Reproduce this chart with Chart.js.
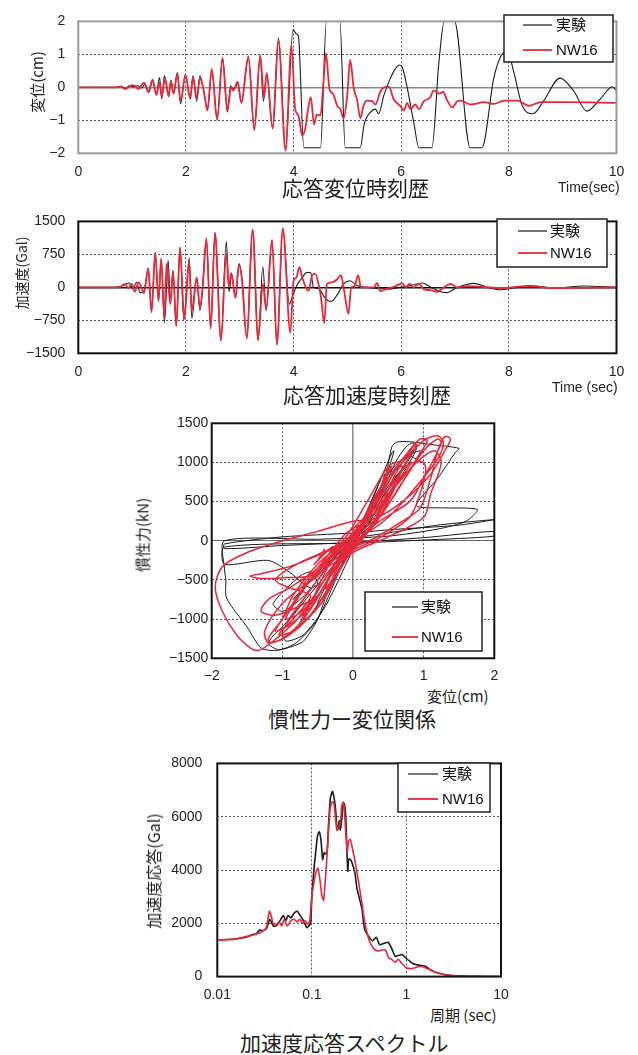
<!DOCTYPE html>
<html>
<head>
<meta charset="utf-8">
<script src="https://cdn.jsdelivr.net/npm/chart.js@4.4.0/dist/chart.umd.min.js"></script>
<style>
  body { margin: 0; width: 638px; height: 1055px; position: relative; overflow: hidden; background: #fff;
         font-family: "Liberation Sans", "Noto Sans CJK JP", sans-serif; color: #222; }
  canvas { position: absolute; left: 0; }
  .t { position: absolute; white-space: nowrap; line-height: 1; }
  .big { font-family: "Noto Sans CJK JP", sans-serif; font-size: 21px; }
  .v { transform: translate(-50%, -50%) rotate(-90deg); font-family: "Noto Sans CJK JP", sans-serif; }
</style>
</head>
<body>
<canvas id="c1" width="638" height="200" style="top:0"></canvas>
<canvas id="c2" width="638" height="205" style="top:200px"></canvas>
<canvas id="c3" width="638" height="280" style="top:405px"></canvas>
<canvas id="c4" width="638" height="260" style="top:740px"></canvas>

<div class="t v" style="left:36px;top:82px;font-size:15px">変位(cm)</div>
<div class="t" style="left:558px;top:180px;font-size:14px">Time(sec)</div>
<div class="t big" style="left:282px;top:177px">応答変位時刻歴</div>

<div class="t v" style="left:21px;top:273px;font-size:14px">加速度(Gal)</div>
<div class="t" style="left:552px;top:380px;font-size:14px">Time (sec)</div>
<div class="t big" style="left:283px;top:384px">応答加速度時刻歴</div>

<div class="t v" style="left:142px;top:535px;font-size:15px">慣性力(kN)</div>
<div class="t" style="left:427px;top:688px;font-size:15px;font-family:'Noto Sans CJK JP'">変位(cm)</div>
<div class="t big" style="left:268px;top:708px">慣性力ー変位関係</div>

<div class="t v" style="left:153px;top:871px;font-size:16px">加速度応答(Gal)</div>
<div class="t" style="left:430px;top:1007px;font-size:15px;font-family:'Noto Sans CJK JP'">周期 (sec)</div>
<div class="t big" style="left:240px;top:1032px">加速度応答スペクトル</div>

<script>
// ---- response displacement time history (cm) ----
const dispTimeExp = [0, 0.7, 0.8, 0.88, 0.95, 1.02, 1.1, 1.18, 1.24, 1.31, 1.38, 1.45, 1.51, 1.55, 1.6, 1.68, 1.72, 1.77, 1.84, 1.9, 1.99, 2.08, 2.13, 2.2, 2.26, 2.33, 2.4, 2.48, 2.58, 2.68, 2.77, 2.83, 2.87, 2.92, 2.96, 3.03, 3.16, 3.27, 3.38, 3.44, 3.5, 3.61, 3.72, 3.85, 3.99, 4.05, 4.09, 4.19, 4.5, 4.61, 4.86, 4.96, 5.24, 5.31, 5.43, 5.52, 5.58, 5.68, 5.8, 5.89, 5.97, 6.02, 6.11, 6.23, 6.33, 6.57, 6.7, 6.8, 6.99, 7.28, 7.5, 7.72, 7.85, 7.97, 8.09, 8.25, 8.45, 8.65, 8.95, 9.2, 9.45, 9.7, 9.92, 10];
const dispExp = [0, 0, 0.03, -0.03, 0.05, 0.02, 0.05, -0.02, 0.1, -0.15, 0.2, -0.2, 0.3, -0.35, 0.35, -0.28, 0.22, -0.19, 0.45, -0.5, 0.38, -0.35, 0.35, -0.42, 0.35, -0.1, -0.65, 0.5, -0.95, 0.9, -0.75, 0.05, -0.05, 0, 0.12, -0.45, 0.9, -1.25, 0.95, -0.42, 0.4, -1.2, 1.5, -1.85, 1.75, 1.62, 1.55, -1.83, -1.83, 2, 2, -1.83, -1.83, -1.13, -0.75, -0.66, -0.8, -0.23, 0.28, 0.56, 0.68, 0.61, 0, -1.03, -1.83, -1.83, 0.75, 2, 2, -1.83, -1.83, 0.28, 0.94, 1.1, 0.47, -0.56, -0.8, -0.4, 0.28, -0.1, -0.72, -0.35, 0.02, -0.1];
const dispTimeNW = [0, 0.7, 0.8, 0.87, 0.95, 1.02, 1.08, 1.12, 1.18, 1.22, 1.3, 1.38, 1.45, 1.51, 1.55, 1.61, 1.68, 1.72, 1.77, 1.84, 1.9, 1.99, 2.08, 2.13, 2.2, 2.26, 2.33, 2.4, 2.48, 2.58, 2.68, 2.77, 2.84, 2.88, 2.96, 3.03, 3.16, 3.27, 3.38, 3.45, 3.5, 3.61, 3.72, 3.85, 3.96, 4.03, 4.09, 4.16, 4.22, 4.26, 4.32, 4.38, 4.43, 4.5, 4.56, 4.6, 4.67, 4.73, 4.81, 4.87, 4.93, 5.0, 5.05, 5.12, 5.18, 5.24, 5.3, 5.36, 5.46, 5.52, 5.61, 5.68, 5.77, 5.86, 5.98, 6.05, 6.11, 6.17, 6.26, 6.33, 6.42, 6.54, 6.6, 6.7, 6.78, 6.85, 6.95, 7.04, 7.1, 7.29, 7.54, 7.72, 7.91, 8.16, 8.37, 8.59, 9.09, 10];
const dispNW = [0, 0, 0.02, -0.05, 0.03, 0.07, 0, -0.05, 0.08, 0.14, -0.14, 0.23, -0.23, 0.14, -0.28, 0.28, -0.26, 0.19, -0.19, 0.42, -0.42, 0.38, -0.33, 0.33, -0.33, 0.28, -0.1, -0.7, 0.56, -0.99, 0.88, -0.7, 0, -0.1, 0.17, -0.47, 0.94, -1.3, 0.98, -0.3, 0.44, -1.25, 1.4, -1.92, 1.28, -0.66, -0.85, -1.46, -1.22, -0.75, -0.3, -1.13, -0.83, -0.85, 0.28, 1.03, -0.09, -0.19, -0.56, -0.66, -0.94, -0.19, 0.83, -0.05, -0.38, -0.94, -0.56, -0.4, -0.42, -0.52, -0.14, 0, 0.02, -0.36, -0.56, -0.7, -0.47, -0.66, -0.52, -0.66, -0.42, -0.3, -0.09, -0.19, -0.14, -0.38, -0.61, -0.42, -0.4, -0.52, -0.45, -0.5, -0.4, -0.4, -0.56, -0.45, -0.45, -0.47];

// ---- response acceleration time history (Gal) ----
const accTimeExp = [0, 0.7, 0.78, 0.87, 0.94, 1.02, 1.08, 1.15, 1.22, 1.3, 1.36, 1.43, 1.49, 1.54, 1.6, 1.67, 1.71, 1.76, 1.82, 1.89, 1.96, 1.99, 2.06, 2.11, 2.2, 2.26, 2.31, 2.38, 2.46, 2.54, 2.65, 2.75, 2.8, 2.85, 2.92, 2.99, 3.04, 3.13, 3.24, 3.34, 3.43, 3.49, 3.6, 3.69, 3.8, 3.92, 3.97, 4.06, 4.16, 4.25, 4.32, 4.37, 4.47, 4.56, 4.65, 4.71, 4.81, 4.93, 5.05, 5.18, 5.36, 5.55, 5.8, 5.98, 6.17, 6.39, 6.54, 6.73, 6.85, 7.01, 7.35, 7.6, 7.85, 8.09, 8.4, 8.84, 9.4, 10];
const accExp = [0, 0, 20, 60, 100, -40, 115, -120, -80, 420, -560, 790, -300, 640, -800, 610, -350, 380, -870, 915, -740, -450, 664, -700, 230, -530, 0, 1080, -920, 1250, -1200, 1040, -100, 300, -230, 540, 200, -1130, 1290, -1200, 470, -530, 1070, -1310, 1340, -385, -240, 40, 220, 340, 330, 0, -30, -200, -310, -315, -170, 80, 150, 40, 0, -25, -40, 0, 40, 100, 10, -100, -120, -20, 90, 0, -55, -15, 35, -15, 30, 0];
const accTimeNW = [0, 0.7, 0.78, 0.87, 0.93, 0.99, 1.05, 1.12, 1.18, 1.22, 1.3, 1.36, 1.43, 1.49, 1.54, 1.6, 1.64, 1.71, 1.76, 1.82, 1.89, 1.97, 2.06, 2.11, 2.2, 2.26, 2.31, 2.38, 2.46, 2.54, 2.65, 2.75, 2.8, 2.84, 2.92, 2.98, 3.04, 3.13, 3.24, 3.34, 3.43, 3.49, 3.6, 3.69, 3.8, 3.94, 4.0, 4.05, 4.11, 4.17, 4.28, 4.34, 4.4, 4.47, 4.51, 4.57, 4.62, 4.71, 4.81, 4.88, 4.93, 5.02, 5.07, 5.13, 5.2, 5.25, 5.49, 5.55, 5.61, 5.74, 5.86, 6.02, 6.08, 6.16, 6.23, 6.33, 6.42, 6.54, 6.67, 6.79, 6.92, 7.04, 7.23, 7.85, 8.34, 8.84, 10];
const accNW = [0, 0, 10, 80, -20, 80, -100, 115, -30, -135, 435, -565, 790, -315, 650, -700, 540, -385, 365, -885, 900, -710, 580, -530, 220, -460, 0, 1120, -940, 1230, -1210, 760, 0, 330, -240, 505, 200, -1160, 1320, -1200, 80, -490, 1080, -1290, 1340, -1030, 150, 220, 457, 185, -80, 260, 310, 40, -240, -815, 80, 115, 185, 280, 0, -600, 0, 20, 280, 0, 0, 100, -85, -30, 10, 90, 0, 80, 0, 80, -40, -65, -100, 0, 80, 0, 30, -15, 30, -15, 0];

// ---- inertial force vs displacement loops ----
const hysDispExp = [0, 0.05, -0.05, 0.1, -0.08, 0.15, -0.15, 0.22, -0.2, 0.35, 0.45, 0.4, 0.1, -0.15, -0.4, -0.5, -0.35, -0.05, 0.35, 0.5, 0.58, 0.55, 0.35, 0.05, -0.3, -0.6, -0.75, -0.65, -0.35, 0, 0.4, 0.6, 0.75, 0.85, 0.9, 0.7, 0.3, -0.1, -0.5, -0.9, -1.2, -1.05, -0.8, -0.5, -0.2, 0.1, 0.3, 0.5, 0.7, 0.95, 0.9, 0.8, 0.88, 0.7, 0.4, 0, -0.4, -0.8, -1.0, -0.95, -0.7, -0.4, -0.1, 0.45, 0.55, 0.62, 0.8, 1.1, 1.5, 1.45, 1.2, 0.9, 1.3, 1.76, 1.6, 1.2, 0.5, -0.5, -1.82, -1.82, -1.8, -1.79, -1.5, -1.3, -1.1, -0.9, -0.7, -0.5, -0.3, 0, 0.5, 1.2, 2.0, 1.5, 0.5, 0, -1, -1.82, -1.82, -1, 0, 1, 2, 2, 1, 0, -1.82, -1.82, -1.2, -0.9, -0.7, -0.6, -0.5, -0.6, -0.75, -1.13, -1.0, -0.75, -0.5, -0.1, 0.3, 0.6, 0.68, 0.5, 0.2, -0.3, -0.8, -0.85, -0.6, -0.2, 0.2, 0.28, 0, -0.4, -0.72, -0.5, 0, -0.1];
const hysForceExp = [0, 60, -50, 120, -100, 200, -220, 330, -300, 600, 850, 800, 150, -150, -600, -800, -650, -100, 500, 900, 1150, 1120, 700, 100, -350, -800, -1050, -1000, -600, -50, 600, 1000, 1200, 1250, 1180, 850, 300, -50, -500, -1000, -1300, -1390, -1300, -1000, -400, 150, 500, 850, 1050, 1150, 1050, 1100, 1180, 900, 450, 0, -450, -900, -1150, -1280, -1200, -850, -300, 800, 1200, 1260, 1265, 1230, 1180, 1130, 800, 450, 420, 400, 250, 150, 60, 20, 0, -350, -500, -730, -1100, -1370, -1400, -1360, -1280, -1000, -500, 0, 100, 200, 270, 200, 140, 100, 50, -40, -100, -60, -20, 40, 120, 60, 10, -30, -80, -300, -250, -400, -550, -600, -550, -400, -450, -800, -900, -750, -500, 0, 400, 800, 900, 700, 200, -250, -700, -750, -500, -100, 150, 250, 50, -300, -600, -400, 0, -50];
const hysDispNW = [0, 0.04, -0.04, 0.08, -0.06, 0.12, -0.1, 0.18, -0.15, 0.3, 0.4, 0.35, 0.1, -0.1, -0.35, -0.4, -0.3, -0.1, 0.15, 0.4, 0.55, 0.5, 0.3, 0, -0.3, -0.55, -0.7, -0.6, -0.3, 0, 0.3, 0.6, 0.85, 0.9, 0.75, 0.4, 0, -0.5, -0.85, -1.0, -1.1, -0.95, -0.6, -0.3, -0.1, 0.2, 0.5, 0.75, 0.95, 1.05, 0.9, 0.6, 0.2, -0.3, -0.7, -1.0, -1.2, -1.15, -0.9, -0.6, -0.35, -0.1, 0.3, 0.7, 0.95, 1.1, 1.2, 1.3, 1.38, 1.3, 1.1, 0.7, 0.3, 0, -0.5, -1.0, -1.5, -1.85, -1.95, -1.85, -1.65, -1.45, -1.35, -1.2, -0.9, -0.5, -0.2, 0.1, 0.4, 0.7, 1.0, 1.2, 1.28, 1.2, 0.9, 0.5, 0.1, -0.4, -0.9, -1.3, -1.46, -1.3, -0.95, -0.6, -0.3, 0, 0.4, 0.8, 0.95, 1.03, 1.0, 0.9, 0.7, 0.3, -0.2, -0.6, -0.9, -0.95, -0.8, -0.5, -0.2, 0.3, 0.8, 1.0, 1.25, 1.2, 1.0, 0.7, 0.35, -0.2, -0.8, -1.1, -0.9, -0.6, -0.8, -1.05, -0.85, -0.45, -0.15, 0.2, 0.6, 0.83, 0.7, 0.3, -0.1, -0.5, -0.94, -0.9, -0.7, -0.3, -0.2, -0.6, -1.0, -1.25, -1.2, -1.0, -0.7, -0.45, -0.2, 0.2, 0.5, 0.65, 0.5, 0.2, -0.1, -0.5, -0.9, -1.2, -1.3, -1.1, -0.8, -0.5, -0.3, 0, 0.5, 1.0, 1.1, 1.25, 1.15, 0.9, 0.5, 0.2, 0, 0.2, 0.55, 0.7, 0.6, 0.35, 0, -0.1, -0.5, -0.7, -0.5, -0.25, -0.3, -0.55, -0.5, -0.4];
const hysForceNW = [0, 50, -40, 100, -80, 160, -130, 250, -220, 450, 650, 600, 100, -100, -500, -620, -500, -150, 100, 700, 950, 920, 500, 50, -250, -700, -1000, -950, -550, -100, 250, 850, 1200, 1230, 1000, 450, 80, -300, -700, -1000, -1150, -1100, -850, -400, -120, 300, 800, 1100, 1300, 1280, 1050, 600, 100, -200, -600, -1000, -1250, -1300, -1200, -950, -600, -150, 30, 250, 420, 800, 1150, 1330, 1300, 1150, 850, 500, 280, 250, 120, 0, -150, -330, -600, -900, -1200, -1370, -1400, -1330, -1100, -700, -250, 200, 700, 1000, 1280, 1340, 1250, 1050, 700, 300, 50, -150, -330, -420, -450, -480, -470, -450, -300, -120, 50, 300, 600, 900, 1000, 1000, 800, 350, -100, -500, -900, -1000, -950, -700, -300, 200, 500, 800, 1250, 1300, 1150, 750, 300, -50, -300, -500, -600, -700, -950, -1200, -1150, -800, -300, 100, 700, 1000, 900, 400, 0, -500, -1050, -1100, -900, -350, -200, -500, -800, -1150, -1300, -1250, -1000, -650, -200, 300, 750, 1000, 950, 500, 50, -350, -600, -750, -900, -950, -850, -700, -400, -150, 50, 300, 600, 1000, 1150, 1000, 600, 250, 150, 100, 600, 950, 900, 500, 150, 100, -350, -550, -450, -100, -80, -300, -250, -100];

// ---- acceleration response spectrum ----
const periodExp = [0.01, 0.013, 0.016, 0.02, 0.023, 0.026, 0.028, 0.03, 0.033, 0.036, 0.039, 0.042, 0.046, 0.05, 0.053, 0.056, 0.06, 0.065, 0.07, 0.075, 0.08, 0.085, 0.089, 0.093, 0.097, 0.1, 0.105, 0.11, 0.115, 0.12, 0.125, 0.13, 0.135, 0.14, 0.145, 0.15, 0.157, 0.165, 0.172, 0.178, 0.185, 0.19, 0.195, 0.2, 0.207, 0.213, 0.22, 0.228, 0.235, 0.24, 0.245, 0.255, 0.27, 0.285, 0.3, 0.32, 0.34, 0.36, 0.4, 0.44, 0.48, 0.52, 0.58, 0.64, 0.7, 0.76, 0.82, 0.9, 1.0, 1.1, 1.2, 1.4, 1.6, 1.8, 2.0, 2.5, 3, 4, 5, 7, 10];
const specExp = [1380, 1390, 1420, 1480, 1560, 1620, 1750, 1720, 1800, 2150, 1900, 1900, 2100, 2290, 2100, 2290, 2200, 2380, 2450, 2300, 2150, 1950, 1830, 1900, 2000, 3000, 4000, 4700, 5300, 5430, 5100, 4400, 4650, 4600, 4700, 5700, 6700, 6950, 6700, 6300, 5500, 5550, 5850, 5500, 5900, 6400, 6500, 6000, 4700, 3950, 4400, 4400, 4200, 3900, 3300, 2900, 2500, 1800, 1500, 1350, 1480, 1200, 1250, 1290, 1050, 760, 790, 830, 680, 560, 470, 420, 380, 250, 170, 80, 40, 20, 10, 5, 0];
const periodNW = [0.01, 0.015, 0.02, 0.025, 0.03, 0.033, 0.0355, 0.037, 0.039, 0.042, 0.045, 0.048, 0.051, 0.055, 0.06, 0.065, 0.07, 0.075, 0.08, 0.085, 0.09, 0.095, 0.1, 0.105, 0.11, 0.116, 0.122, 0.128, 0.133, 0.14, 0.148, 0.156, 0.163, 0.17, 0.176, 0.184, 0.192, 0.2, 0.207, 0.215, 0.222, 0.23, 0.237, 0.245, 0.255, 0.265, 0.28, 0.3, 0.32, 0.34, 0.36, 0.38, 0.41, 0.45, 0.5, 0.55, 0.6, 0.65, 0.7, 0.76, 0.82, 0.9, 1.0, 1.1, 1.2, 1.35, 1.5, 1.7, 2.0, 2.5, 3, 4, 6, 10];
const specNW = [1380, 1400, 1500, 1580, 1700, 1850, 2450, 2300, 2000, 1950, 2050, 1900, 2150, 1900, 2100, 2150, 2050, 2150, 2000, 2100, 1950, 2100, 3050, 3500, 3900, 4060, 3600, 3000, 2870, 3800, 5100, 6300, 6550, 6550, 6100, 5500, 5600, 5750, 6400, 6550, 6100, 5200, 4700, 5100, 5150, 4900, 4500, 3900, 3300, 2700, 2100, 1700, 1300, 1050, 960, 1000, 1000, 700, 640, 540, 650, 480, 330, 300, 320, 380, 370, 280, 170, 80, 40, 15, 5, 0];

const dispTicks = [-2, -1, 0, 1, 2];
const accTicks = [-1500, -750, 0, 750, 1500];
const timeTicks = [0, 2, 4, 6, 8, 10];
const periodTicks = [0.01, 0.1, 1, 10];

const RED = "#e8283a";
const BLACK = "#1b1b1b";
const FONT = { family: "'Liberation Sans', Arial, sans-serif", size: 14 };

const pts = (xs, ys) => xs.map((x, i) => ({ x, y: ys[i] }));
const minus = v => String(v).replace("-", "\u2212");
const useTicks = list => scale => { scale.ticks = list.map(value => ({ value })); };

// outer frame and boxed legend drawn on top of the plot
const framePlugin = {
  id: "frame",
  afterDatasetsDraw(chart, args, o) {
    const { ctx, chartArea: a } = chart;
    ctx.save();
    ctx.strokeStyle = o.color;
    ctx.lineWidth = o.width;
    ctx.strokeRect(a.left, a.top, a.right - a.left, a.bottom - a.top);
    const L = o.legend;
    ctx.fillStyle = "#fff";
    ctx.fillRect(L.x, L.y, L.w, L.h);
    ctx.strokeStyle = "#222";
    ctx.lineWidth = 1.5;
    ctx.strokeRect(L.x, L.y, L.w, L.h);
    ctx.font = "15px 'Liberation Sans', 'Noto Sans CJK JP', sans-serif";
    ctx.textBaseline = "middle";
    chart.data.datasets.forEach((ds, i) => {
      const yy = L.rows[i];
      ctx.strokeStyle = ds.borderColor;
      ctx.lineWidth = i === 0 ? 1.2 : 1.8;
      ctx.beginPath();
      ctx.moveTo(L.x1, yy);
      ctx.lineTo(L.x2, yy);
      ctx.stroke();
      ctx.fillStyle = "#111";
      ctx.fillText(ds.label, L.tx, yy + 1);
    });
    ctx.restore();
  }
};
Chart.register(framePlugin);

// grid: dotted inside, special line at zero, hidden at the edges
const grid = (min, max, zero) => ({
  drawTicks: false,
  lineWidth: c => (c.tick && c.tick.value === 0 && zero ? zero.width : 1),
  color: c => {
    const v = c.tick ? c.tick.value : null;
    if (v === min || v === max) return "rgba(0,0,0,0)";
    if (v === 0 && zero) return zero.color;
    return "#555";
  }
});
const border = zero => ({
  display: false,
  dash: c => (c.tick && c.tick.value === 0 && zero ? [] : [2, 2])
});

const lineSet = (label, data, color, width, extra) => Object.assign({
  label, data, borderColor: color, backgroundColor: color, borderWidth: width,
  pointRadius: 0, fill: false
}, extra);

const baseOptions = (padding, legend, frameColor) => ({
  responsive: false,
  animation: false,
  events: [],
  layout: { padding },
  plugins: {
    legend: { display: false },
    tooltip: { enabled: false },
    frame: { color: frameColor, width: 2, legend }
  }
});

function linearAxis(min, max, ticks, zero, pad, size, horizontal) {
  return {
    type: "linear", min, max,
    afterBuildTicks: useTicks(ticks),
    ticks: { font: FONT, color: "#222", padding: pad, callback: v => minus(v) },
    grid: grid(min, max, zero),
    border: border(zero),
    afterFit: s => { if (horizontal) s.height = size; else s.width = size; }
  };
}

// chart 1: displacement time history
new Chart(document.getElementById("c1"), {
  type: "line",
  data: { datasets: [
    lineSet("実験", pts(dispTimeExp, dispExp), BLACK, 1.1, { order: 1, cubicInterpolationMode: "monotone" }),
    lineSet("NW16", pts(dispTimeNW, dispNW), RED, 1.8, { order: 0, cubicInterpolationMode: "monotone" })
  ] },
  options: Object.assign(baseOptions({ left: 0, right: 21.5, top: 11, bottom: 0 },
    { x: 504, y: 15, w: 109, h: 47, rows: [25, 50], x1: 523, x2: 552, tx: 556 }, "#9a9a9a"), {
    scales: {
      x: linearAxis(0, 10, timeTicks, null, 10, 46.7, true),
      y: linearAxis(-2, 2, dispTicks, { color: "#8a8a8a", width: 1.5 }, 13, 78.3, false)
    }
  })
});

// chart 2: acceleration time history
new Chart(document.getElementById("c2"), {
  type: "line",
  data: { datasets: [
    lineSet("実験", pts(accTimeExp, accExp), BLACK, 1.1, { order: 1, cubicInterpolationMode: "monotone" }),
    lineSet("NW16", pts(accTimeNW, accNW), RED, 1.8, { order: 0, cubicInterpolationMode: "monotone" })
  ] },
  options: Object.assign(baseOptions({ left: 0, right: 21.5, top: 13.3, bottom: 0 },
    { x: 497, y: 19, w: 110, h: 48, rows: [31, 53], x1: 518, x2: 547, tx: 550 }, "#111"), {
    scales: {
      x: linearAxis(0, 10, timeTicks, null, 10, 51.7, true),
      y: linearAxis(-1500, 1500, accTicks, { color: "#111", width: 1.5 }, 13, 78.3, false)
    }
  })
});

// chart 3: inertial force - displacement
new Chart(document.getElementById("c3"), {
  type: "scatter",
  data: { datasets: [
    lineSet("実験", pts(hysDispExp, hysForceExp), BLACK, 1, { order: 1, showLine: true, tension: 0.25 }),
    lineSet("NW16", pts(hysDispNW, hysForceNW), RED, 1.5, { order: 0, showLine: true, tension: 0.3 })
  ] },
  options: Object.assign(baseOptions({ left: 151.7, right: 143.7, top: 18.3, bottom: 0 },
    { x: 365, y: 187, w: 117, h: 59, rows: [202, 232], x1: 392, x2: 418, tx: 421 }, "#111"), {
    scales: {
      x: linearAxis(-2, 2, [-2, -1, 0, 1, 2], { color: "#8a8a8a", width: 1.5 }, 9, 26.7, true),
      y: linearAxis(-1500, 1500, [-1500, -1000, -500, 0, 500, 1000, 1500], { color: "#666", width: 1 }, 3.5, 60, false)
    }
  })
});

// chart 4: acceleration response spectrum
new Chart(document.getElementById("c4"), {
  type: "line",
  data: { datasets: [
    lineSet("実験", pts(periodExp, specExp), BLACK, 1.6, { order: 1, tension: 0.2 }),
    lineSet("NW16", pts(periodNW, specNW), RED, 1.6, { order: 0, tension: 0.2 })
  ] },
  options: Object.assign(baseOptions({ left: 157.3, right: 137, top: 13.3, bottom: 0 },
    { x: 398, y: 23, w: 92, h: 49, rows: [34, 59], x1: 408, x2: 438, tx: 442 }, "#111"), {
    scales: {
      x: {
        type: "logarithmic", min: 0.01, max: 10,
        afterBuildTicks: useTicks(periodTicks),
        ticks: { font: FONT, color: "#222", padding: 10, callback: v => String(v) },
        grid: grid(0.01, 10, null),
        border: border(null),
        afterFit: s => { s.height = 23.3; }
      },
      y: linearAxis(0, 8000, [0, 2000, 4000, 6000, 8000], null, 15, 60, false)
    }
  })
});
</script>
</body>
</html>
